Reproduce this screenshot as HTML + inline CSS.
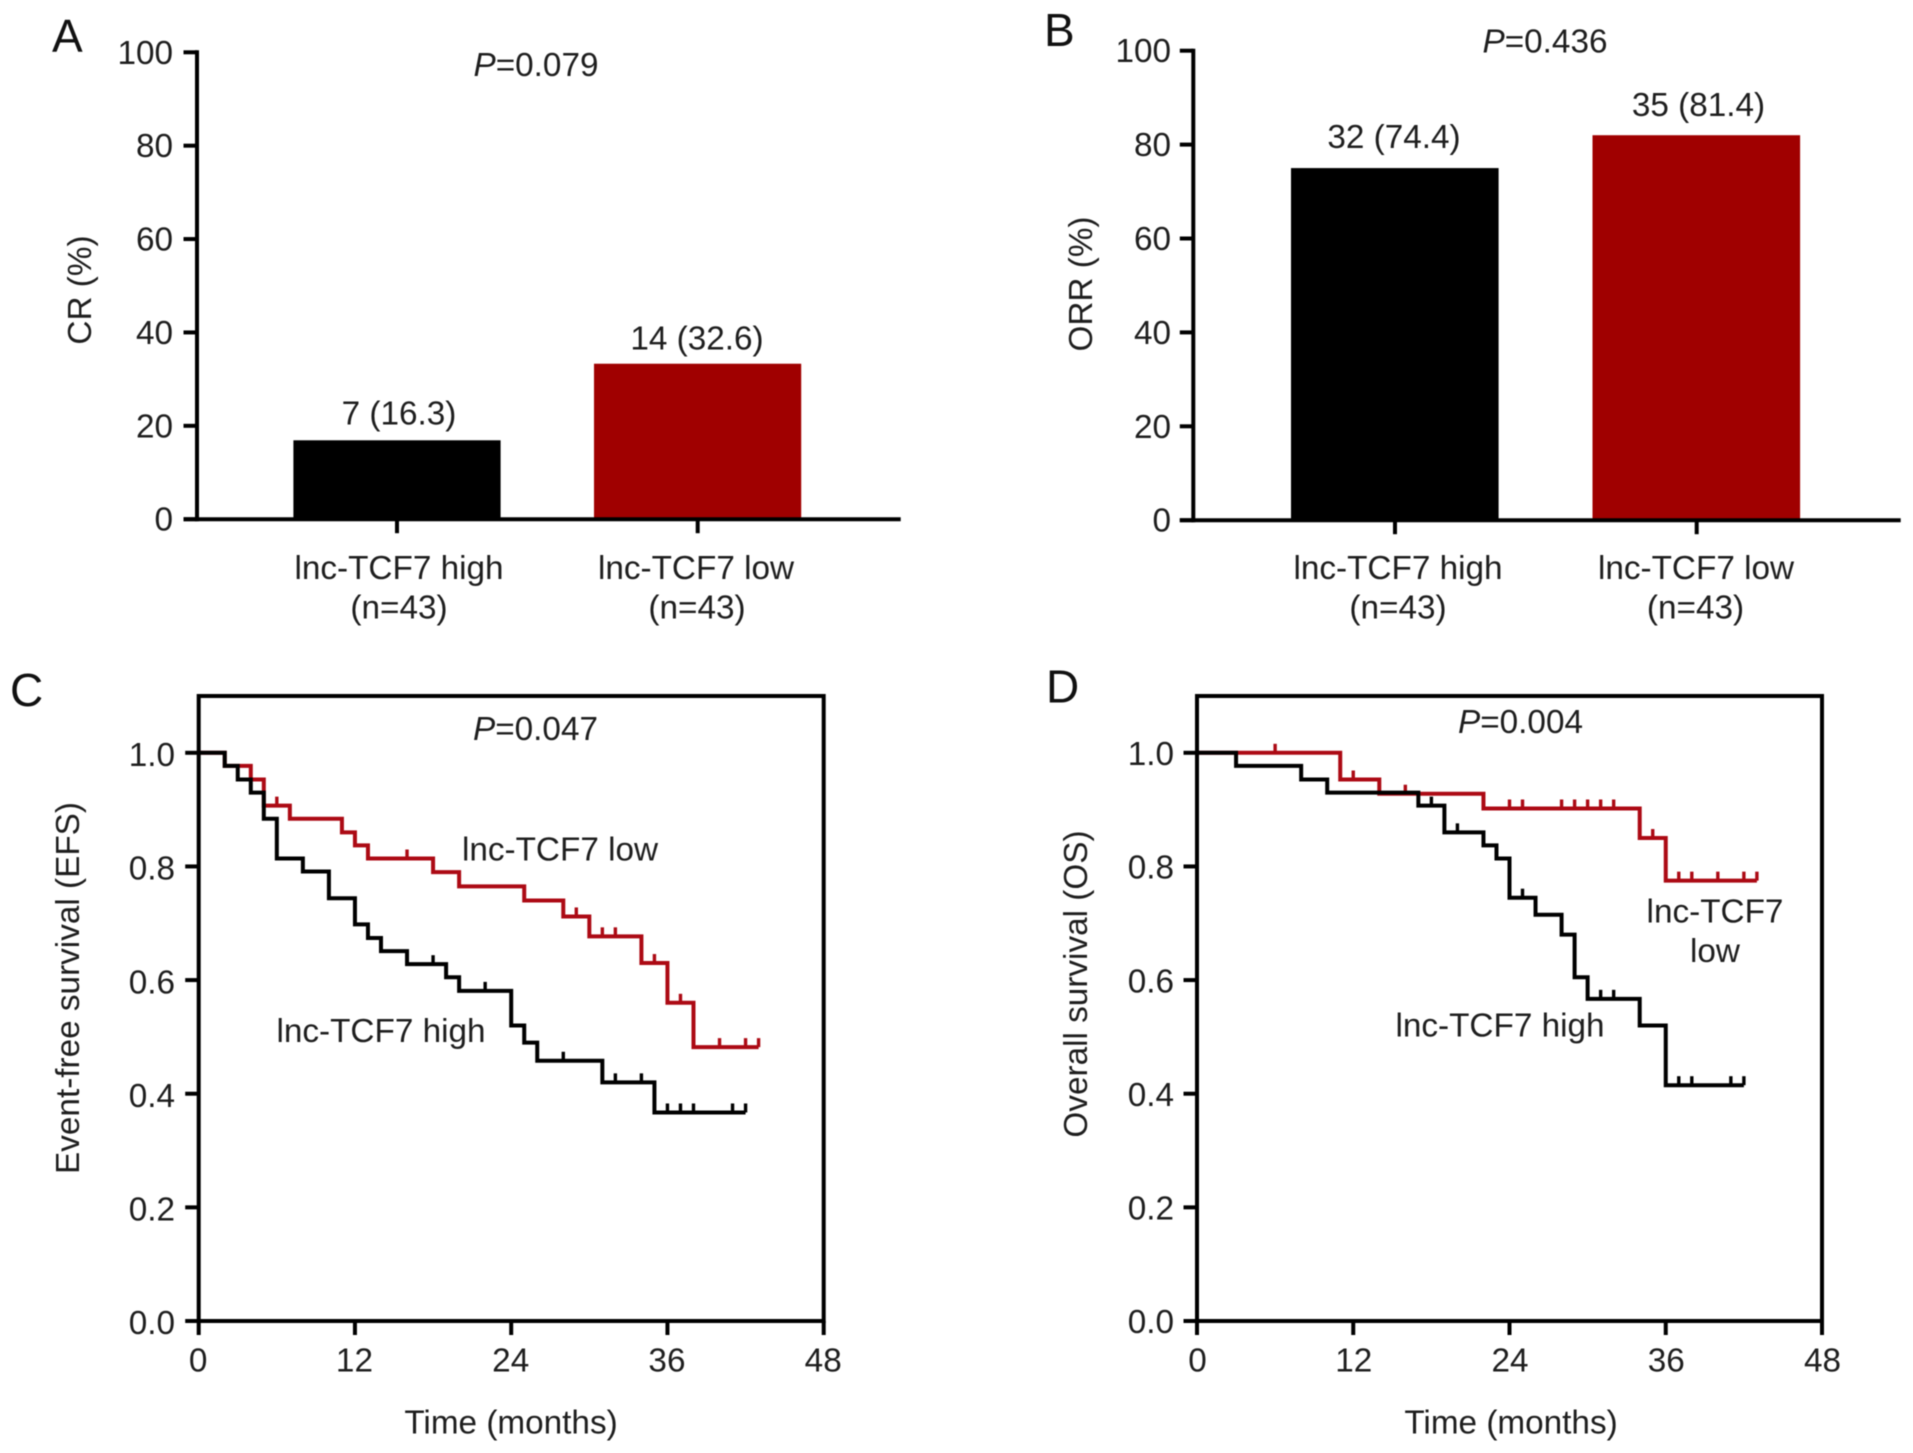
<!DOCTYPE html>
<html lang="en">
<head>
<meta charset="utf-8">
<title>lnc-TCF7 response and survival</title>
<style>
html,body{margin:0;padding:0;background:#fff;width:1913px;height:1453px;overflow:hidden}
svg{display:block;filter:blur(0.55px)}
text{font-family:"Liberation Sans",Arial,sans-serif;font-size:33.3px;fill:#1e1e1e}
.m{text-anchor:middle}
.panel{font-size:46px;fill:#111}
</style>
</head>
<body>
<svg id="figure" xmlns="http://www.w3.org/2000/svg" width="1913" height="1453" viewBox="0 0 1913 1453">
<rect width="1913" height="1453" fill="#fff"/>
<g id="layer"></g>
<g>
<text class="panel" x="52" y="52">A</text>
<text class="panel" x="1044" y="46">B</text>
<text class="panel" x="10" y="706">C</text>
<text class="panel" x="1046" y="702.5">D</text>

<text class="m" x="536" y="76"><tspan font-style="italic">P</tspan>=0.079</text>
<text class="m" x="1545" y="52.5"><tspan font-style="italic">P</tspan>=0.436</text>
<text class="m" x="535.5" y="740"><tspan font-style="italic">P</tspan>=0.047</text>
<text class="m" x="1520.5" y="733"><tspan font-style="italic">P</tspan>=0.004</text>

<text class="m" transform="translate(91 290) rotate(-90)">CR (%)</text>
<text class="m" transform="translate(1092 284) rotate(-90)">ORR (%)</text>
<text class="m" transform="translate(79 988) rotate(-90)">Event-free survival (EFS)</text>
<text class="m" transform="translate(1087 984) rotate(-90)">Overall survival (OS)</text>

<text class="m" x="511" y="1433.6">Time (months)</text>
<text class="m" x="1511" y="1433.6">Time (months)</text>

<text class="m" x="560" y="860.5">lnc-TCF7 low</text>
<text class="m" x="381" y="1042">lnc-TCF7 high</text>
<text class="m" x="1715" y="922.5">lnc-TCF7</text>
<text class="m" x="1715" y="962">low</text>
<text class="m" x="1500" y="1036.5">lnc-TCF7 high</text>
</g>
</svg>
<script>
/* ---- Panels A and B: bar charts ---- */
var barCategories = ['lnc-TCF7 high', 'lnc-TCF7 low'];
var barGroupSizes = ['(n=43)', '(n=43)'];
var barTickLabels = [0, 20, 40, 60, 80, 100];
var crValues = [16.9, 33.3];
var crPrinted = ['7 (16.3)', '14 (32.6)'];
var orrValues = [75.0, 82.0];
var orrPrinted = ['32 (74.4)', '35 (81.4)'];

/* ---- Panels C and D: Kaplan-Meier curves ---- */
var survTickLabels = [0, 0.2, 0.4, 0.6, 0.8, 1.0];
var monthTickLabels = [0, 12, 24, 36, 48];

var efsHighMonths = [0, 2, 3, 4, 5, 6, 8, 10, 12, 13, 14, 16, 19, 20, 24, 25, 26, 31, 35, 42];
var efsHighSurvival = [1, 0.977, 0.953, 0.93, 0.884, 0.814, 0.791, 0.744, 0.698, 0.674, 0.651, 0.628, 0.605, 0.581, 0.52, 0.49, 0.458, 0.42, 0.367, 0.367];
var efsHighCensored = [18, 22, 28, 32, 34, 36, 37, 38, 41, 42];

var efsLowMonths = [0, 2, 4, 5, 7, 11, 12, 13, 18, 20, 25, 28, 30, 34, 36, 38, 43];
var efsLowSurvival = [1, 0.977, 0.953, 0.907, 0.884, 0.86, 0.837, 0.814, 0.79, 0.765, 0.74, 0.712, 0.677, 0.63, 0.56, 0.482, 0.482];
var efsLowCensored = [6, 16, 29, 31, 32, 35, 37, 40, 42, 43];

var osHighMonths = [0, 3, 8, 10, 17, 19, 22, 23, 24, 26, 28, 29, 30, 34, 36, 42];
var osHighSurvival = [1, 0.977, 0.953, 0.93, 0.907, 0.86, 0.837, 0.814, 0.745, 0.715, 0.68, 0.605, 0.567, 0.52, 0.415, 0.415];
var osHighCensored = [18, 20, 25, 31, 32, 37, 38, 41, 42];

var osLowMonths = [0, 11, 14, 22, 34, 36, 43];
var osLowSurvival = [1, 0.953, 0.928, 0.902, 0.85, 0.775, 0.775];
var osLowCensored = [6, 12, 16, 24, 25, 28, 29, 30, 31, 32, 35, 37, 38, 40, 42, 43];

var BLACK = '#000';
var RED = '#a00000';
var LINE_RED = '#ac0a14';
var SVGNS = 'http://www.w3.org/2000/svg';
var layer = document.getElementById('layer');

function draw(tag, attrs, name) {
  var el = document.createElementNS(SVGNS, tag);
  for (var k in attrs) { el.setAttribute(k, attrs[k]); }
  
  
  layer.appendChild(el);
  return el;
}
function seg(x1, y1, x2, y2, w, c, name) {
  return draw('line', {x1: x1, y1: y1, x2: x2, y2: y2, stroke: c, 'stroke-width': w}, name);
}
function label(x, y, str, anchor, name) {
  var t = draw('text', {x: x, y: y, 'text-anchor': anchor}, name);
  t.textContent = str;
  return t;
}

function barChart(o) {
  var yScale = function (v) { return o.y0 + (o.y100 - o.y0) * v / 100; };
  o.values.forEach(function (v, i) {
    var top = yScale(v);
    draw('rect', {x: o.barLeft[i], y: top, width: o.barWidth, height: o.y0 - top, fill: i === 0 ? BLACK : RED}, o.id + '-bar-' + i);
    label(o.printedX[i], top - o.printedGap[i], o.printed[i], 'middle', o.id + '-bar-value-' + i);
    seg(o.tickX[i], o.y0, o.tickX[i], o.y0 + 14, 4, BLACK, o.id + '-x-tick-' + i);
    label(o.catX[i], 579, barCategories[i], 'middle', o.id + '-category-label-' + i);
    label(o.nX[i], 618.5, barGroupSizes[i], 'middle', o.id + '-group-size-' + i);
  });
  seg(o.axisX, o.y100 - 2, o.axisX, o.y0 + 2, 4, BLACK, o.id + '-y-axis');
  seg(o.axisX - 13.5, o.y0, o.axisEnd, o.y0, 4, BLACK, o.id + '-x-axis');
  barTickLabels.forEach(function (t) {
    var y = yScale(t);
    seg(o.axisX - 13.5, y, o.axisX, y, 4, BLACK, o.id + '-y-tick-' + t);
    label(o.labelX, y + o.labelDrop, String(t), 'end', o.id + '-y-tick-label-' + t);
  });
}

function kmChart(o) {
  var xScale = function (m) { return o.left + (o.right - o.left) * m / 48; };
  var yScale = function (s) { return o.bottom - (o.bottom - o.y1) * s; };
  o.series.forEach(function (s) {
    var d = 'M' + xScale(s.months[0]) + ' ' + yScale(s.survival[0]);
    for (var i = 1; i < s.months.length; i++) {
      d += 'H' + xScale(s.months[i]) + 'V' + yScale(s.survival[i]);
    }
    draw('path', {d: d, fill: 'none', stroke: s.color, 'stroke-width': 4, 'stroke-linejoin': 'miter'}, o.id + '-curve-' + s.key);
    s.censored.forEach(function (m, j) {
      var sv = s.survival[0];
      for (var n = 0; n < s.months.length; n++) { if (s.months[n] <= m) { sv = s.survival[n]; } }
      var y = yScale(sv);
      seg(xScale(m), y, xScale(m), y - 9, 3.4, s.color, o.id + '-censor-' + s.key + '-' + j);
    });
  });
  draw('rect', {x: o.left, y: o.top, width: o.right - o.left, height: o.bottom - o.top, fill: 'none', stroke: BLACK, 'stroke-width': 4}, o.id + '-plot-frame');
  survTickLabels.forEach(function (t) {
    var y = yScale(t);
    seg(o.left - 13.5, y, o.left, y, 4, BLACK, o.id + '-y-tick-' + t);
    label(o.labelX, y + o.labelDrop, t.toFixed(1), 'end', o.id + '-y-tick-label-' + t);
  });
  monthTickLabels.forEach(function (t) {
    var x = xScale(t);
    seg(x, o.bottom, x, o.bottom + 14, 4, BLACK, o.id + '-x-tick-' + t);
    label(x + o.xLabelShift, 1371.7, String(t), 'middle', o.id + '-x-tick-label-' + t);
  });
}

barChart({
  id: 'cr', values: crValues, printed: crPrinted,
  axisX: 197, axisEnd: 900.7, y0: 519.2, y100: 52.3, labelX: 173, labelDrop: 11.5, barWidth: 207.2,
  barLeft: [293.4, 594], printedX: [399, 697], printedGap: [16, 14], tickX: [397, 697.7],
  catX: [399, 696], nX: [399, 697]
});
barChart({
  id: 'orr', values: orrValues, printed: orrPrinted,
  axisX: 1193.3, axisEnd: 1900.7, y0: 520.2, y100: 50.7, labelX: 1171, labelDrop: 11.5, barWidth: 207.6,
  barLeft: [1291, 1592.5], printedX: [1394, 1698.5], printedGap: [20, 19], tickX: [1395, 1696.7],
  catX: [1398, 1696], nX: [1398, 1695.5]
});
kmChart({
  id: 'efs', left: 198.7, right: 823.7, top: 696, bottom: 1321, y1: 752.8, labelX: 175, labelDrop: 13.2, xLabelShift: -0.5,
  series: [
    {key: 'low', color: LINE_RED, months: efsLowMonths, survival: efsLowSurvival, censored: efsLowCensored},
    {key: 'high', color: BLACK, months: efsHighMonths, survival: efsHighSurvival, censored: efsHighCensored}
  ]
});
kmChart({
  id: 'os', left: 1197, right: 1822, top: 696, bottom: 1321, y1: 752.8, labelX: 1174, labelDrop: 12.2, xLabelShift: 0.5,
  series: [
    {key: 'low', color: LINE_RED, months: osLowMonths, survival: osLowSurvival, censored: osLowCensored},
    {key: 'high', color: BLACK, months: osHighMonths, survival: osHighSurvival, censored: osHighCensored}
  ]
});
</script>
</body>
</html>
